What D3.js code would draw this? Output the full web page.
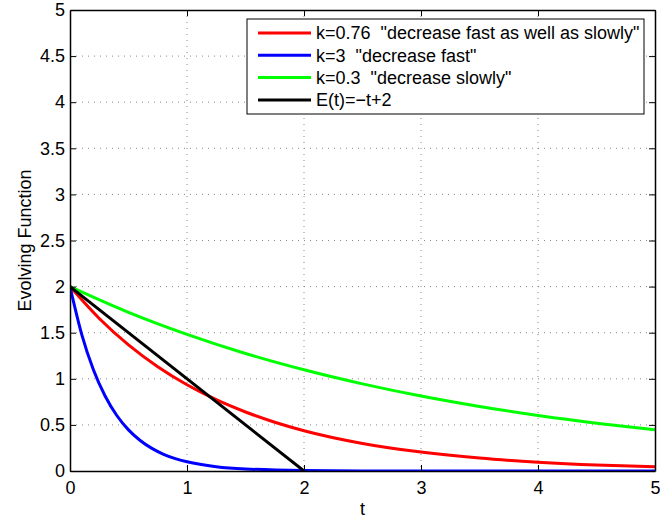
<!DOCTYPE html>
<html>
<head>
<meta charset="utf-8">
<script src="https://cdn.jsdelivr.net/npm/d3@7"></script>
<style>
  body { margin: 0; background: #fff; }
  text { font-family: "Liberation Sans", Arial, sans-serif; fill: #000; }
</style>
</head>
<body>
<div id="chart"></div>
<script>
// values
const tRed = [0, 0.25, 0.5, 0.75, 1, 1.25, 1.5, 1.75, 2, 2.5, 3, 3.5, 4, 4.5, 5];
const yRed = [2, 1.654, 1.368, 1.131, 0.935, 0.773, 0.64, 0.529, 0.437, 0.299, 0.205, 0.14, 0.096, 0.065, 0.045];

const tBlue = [0, 0.1, 0.2, 0.3, 0.4, 0.5, 0.6, 0.7, 0.8, 0.9, 1, 1.25, 1.5, 2, 2.5, 3, 4, 5];
const yBlue = [2, 1.482, 1.098, 0.813, 0.602, 0.446, 0.331, 0.245, 0.181, 0.134, 0.1, 0.047, 0.022, 0.005, 0.001, 0, 0, 0];

const tGreen = [0, 0.5, 1, 1.5, 2, 2.5, 3, 3.5, 4, 4.5, 5];
const yGreen = [2, 1.721, 1.482, 1.275, 1.098, 0.945, 0.813, 0.7, 0.602, 0.518, 0.446];

const tBlack = [0, 2];
const yBlack = [2, 0];

const xTicks = [0, 1, 2, 3, 4, 5];
const yTicks = [0, 0.5, 1, 1.5, 2, 2.5, 3, 3.5, 4, 4.5, 5];

const seriesNames = [
  'k=0.76  "decrease fast as well as slowly"',
  'k=3  "decrease fast"',
  'k=0.3  "decrease slowly"',
  'E(t)=\u2212t+2'
];
const seriesColors = ["#ff0000", "#0000ff", "#00ff00", "#000000"];

const series = [
  { t: tRed, y: yRed },
  { t: tBlue, y: yBlue },
  { t: tGreen, y: yGreen },
  { t: tBlack, y: yBlack }
].map((s, i) => ({
  name: seriesNames[i],
  color: seriesColors[i],
  points: s.t.map((t, j) => ({ t: t, v: s.y[j] }))
}));

const width = 667, height = 520;
const margin = { left: 70, right: 12, top: 10, bottom: 49 };
const plotW = width - margin.left - margin.right;
const plotH = height - margin.top - margin.bottom;
const fontSize = 18;

const svg = d3.select("#chart").append("svg")
  .attr("width", width)
  .attr("height", height);

const x = d3.scaleLinear().domain([0, 5]).range([0, plotW]);
const y = d3.scaleLinear().domain([0, 5]).range([plotH, 0]);

const g = svg.append("g").attr("transform", `translate(${margin.left},${margin.top})`);

// dotted grid
g.append("g")
  .selectAll("line")
  .data(xTicks.slice(1, -1))
  .join("line")
  .attr("x1", d => x(d)).attr("x2", d => x(d))
  .attr("y1", 0).attr("y2", plotH)
  .attr("stroke", "#888")
  .attr("stroke-width", 1)
  .attr("stroke-dasharray", "1,5");

g.append("g")
  .selectAll("line")
  .data(yTicks.slice(1, -1))
  .join("line")
  .attr("x1", 0).attr("x2", plotW)
  .attr("y1", d => y(d)).attr("y2", d => y(d))
  .attr("stroke", "#888")
  .attr("stroke-width", 1)
  .attr("stroke-dasharray", "1,5");

// curves
g.append("clipPath").attr("id", "clip")
  .append("rect").attr("width", plotW).attr("height", plotH + 2).attr("y", -1);

const line = d3.line()
  .x(d => x(d.t))
  .y(d => y(d.v))
  .curve(d3.curveMonotoneX);

g.append("g")
  .attr("clip-path", "url(#clip)")
  .selectAll("path")
  .data(series)
  .join("path")
  .attr("d", d => line(d.points))
  .attr("fill", "none")
  .attr("stroke", d => d.color)
  .attr("stroke-width", 3);

// axes, ticks pointing inward on all four sides
const tickLen = 6;
const xAxisB = d3.axisBottom(x).tickValues(xTicks).tickSizeInner(-tickLen).tickSizeOuter(0).tickPadding(10).tickFormat(d3.format("~g"));
const xAxisT = d3.axisTop(x).tickValues(xTicks).tickSizeInner(-tickLen).tickSizeOuter(0).tickFormat("");
const yAxisL = d3.axisLeft(y).tickValues(yTicks).tickSizeInner(-tickLen).tickSizeOuter(0).tickPadding(5).tickFormat(d3.format("~g"));
const yAxisR = d3.axisRight(y).tickValues(yTicks).tickSizeInner(-tickLen).tickSizeOuter(0).tickFormat("");

const styleAxis = sel => {
  sel.select(".domain").attr("stroke", "#000").attr("stroke-width", 1.5);
  sel.selectAll(".tick line").attr("stroke", "#000");
  sel.selectAll("text").attr("font-size", fontSize).attr("font-family", '"Liberation Sans", Arial, sans-serif');
};

g.append("g").attr("transform", `translate(0,${plotH})`).call(xAxisB).call(styleAxis);
g.append("g").call(xAxisT).call(styleAxis);
g.append("g").call(yAxisL).call(styleAxis);
g.append("g").attr("transform", `translate(${plotW},0)`).call(yAxisR).call(styleAxis);

// axis labels
svg.append("text")
  .attr("x", margin.left + plotW / 2)
  .attr("y", 515)
  .attr("text-anchor", "middle")
  .attr("font-size", fontSize)
  .text("t");

svg.append("text")
  .attr("transform", `translate(31,${margin.top + plotH / 2}) rotate(-90)`)
  .attr("text-anchor", "middle")
  .attr("font-size", fontSize)
  .text("Evolving Function");

// legend
const legend = svg.append("g").attr("transform", "translate(247,19)");
legend.append("rect")
  .attr("width", 397).attr("height", 95)
  .attr("fill", "#fff").attr("stroke", "#000").attr("stroke-width", 1);

const rows = legend.selectAll("g.row")
  .data(series)
  .join("g")
  .attr("class", "row")
  .attr("transform", (d, i) => `translate(0,${14 + i * 22.3})`);

rows.append("line")
  .attr("x1", 11).attr("x2", 64)
  .attr("stroke", d => d.color)
  .attr("stroke-width", 3);

rows.append("text")
  .attr("x", 69)
  .attr("dy", "0.35em")
  .attr("font-size", fontSize)
  .style("white-space", "pre")
  .text(d => d.name);
</script>
</body>
</html>
